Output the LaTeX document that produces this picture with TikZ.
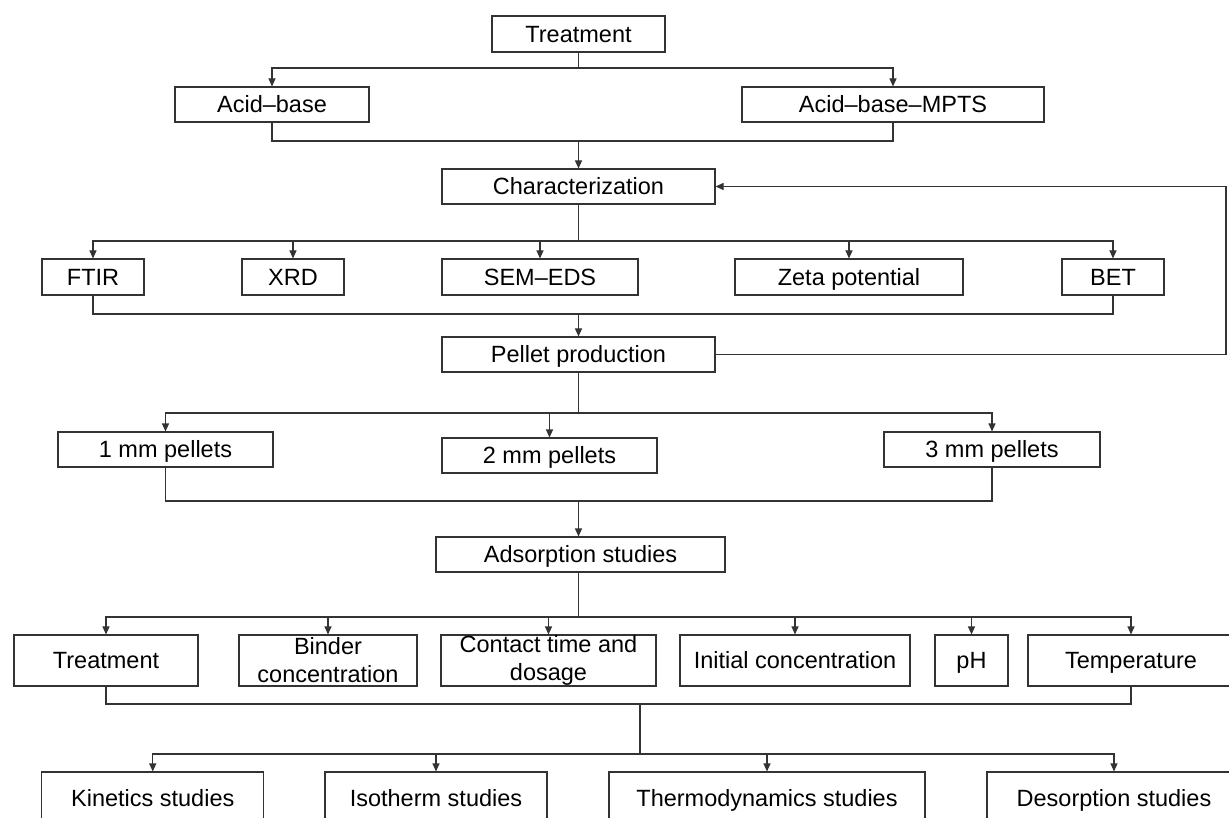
\documentclass[tikz,border=0pt]{standalone}
\usepackage{fontspec}
\setmainfont{Liberation Sans}
\usetikzlibrary{arrows.meta}
\begin{document}
\begin{tikzpicture}[x=1pt,y=-1pt,
  box/.style={draw=black!80, line width=1.1pt, inner sep=0pt, align=center,
    font=\fontsize{23.5}{28}\selectfont, text=black},
  sbox/.style={box, text height=18.8pt, text depth=1.9pt},
  ln/.style={draw=black!80, line width=1.1pt},
  arr/.style={ln, -{Triangle[length=8pt,width=7pt]}}]
\useasboundingbox (0,0) rectangle (1229,818);
\fill[white] (0,0) rectangle (1229,818);
\clip (0,0) rectangle (1229,818);
% nodes
\node[sbox, minimum width=173, minimum height=36] (t0) at (578.5,34) {Treatment};
\node[sbox, minimum width=194, minimum height=35] (ab) at (272,104.5) {Acid–base};
\node[sbox, minimum width=302, minimum height=35] (abm) at (893,104.5) {Acid–base–MPTS};
\node[sbox, minimum width=273, minimum height=35] (ch) at (578.5,186.5) {Characterization};
\node[sbox, minimum width=102, minimum height=36] (ftir) at (93,277) {FTIR};
\node[sbox, minimum width=102, minimum height=36] (xrd) at (293,277) {XRD};
\node[sbox, minimum width=196, minimum height=36] (sem) at (540,277) {SEM–EDS};
\node[sbox, minimum width=228, minimum height=36] (zeta) at (849,277) {Zeta potential};
\node[sbox, minimum width=102, minimum height=36] (bet) at (1113,277) {BET};
\node[sbox, minimum width=273, minimum height=35] (pp) at (578.5,354.5) {Pellet production};
\node[sbox, minimum width=215, minimum height=35] (p1) at (165.5,449.5) {1 mm pellets};
\node[sbox, minimum width=215, minimum height=35] (p2) at (549.5,455.5) {2 mm pellets};
\node[sbox, minimum width=216, minimum height=35] (p3) at (992,449.5) {3 mm pellets};
\node[sbox, minimum width=289, minimum height=35] (ads) at (580.5,554.5) {Adsorption studies};
\node[sbox, minimum width=184, minimum height=51] (tr) at (106,660.5) {Treatment};
\node[box, minimum width=178, minimum height=51] (bind) at (328,660.5) {Binder\\concentration};
\node[box, minimum width=215, minimum height=51] (cont) at (548.5,660.5) {Contact time and\\dosage};
\node[sbox, minimum width=230, minimum height=51] (init) at (795,660.5) {Initial concentration};
\node[sbox, minimum width=73, minimum height=51] (ph) at (971.5,660.5) {pH};
\node[sbox, minimum width=206, minimum height=51] (temp) at (1131,660.5) {Temperature};
\node[sbox, minimum width=222, minimum height=52] (kin) at (152.75,798) {Kinetics studies};
\node[sbox, minimum width=222, minimum height=52] (iso) at (436,798) {Isotherm studies};
\node[sbox, minimum width=316, minimum height=52] (thermo) at (767,798) {Thermodynamics studies};
\node[sbox, minimum width=254, minimum height=52] (des) at (1114,798) {Desorption studies};
% junction coordinates
\coordinate (s1) at (578.5,68);
\coordinate (m1) at (578.5,141);
\coordinate (s2) at (578.5,241);
\coordinate (m2) at (578.5,314);
\coordinate (fbx) at (1226,0);
\coordinate (s3) at (578.5,413);
\coordinate (m3) at (578.5,501);
\coordinate (s4) at (578.5,617);
\coordinate (m4) at (640,704);
\coordinate (s5) at (640,754);
% connectors
\draw[ln] (t0.south) -- (s1);
\draw[arr] (s1) -| (ab.north);
\draw[arr] (s1) -| (abm.north);
\draw[ln] (ab.south) |- (m1) -| (abm.south);
\draw[arr] (m1) -- (ch.north);
\draw[ln] (ch.south) -- (s2);
\foreach \n in {ftir,xrd,sem,zeta,bet} \draw[arr] (s2) -| (\n.north);
\draw[ln] (ftir.south) |- (m2) -| (bet.south);
\draw[arr] (m2) -- (pp.north);
\draw[arr] (pp.east) -- (pp.east -| fbx) |- (ch.east);
\draw[ln] (pp.south) -- (s3);
\foreach \n in {p1,p2,p3} \draw[arr] (s3) -| (\n.north);
\draw[ln] (p1.south) |- (m3) -| (p3.south);
\draw[arr] (m3) -- (m3 |- ads.north);
\draw[ln] (m3 |- ads.south) -- (s4);
\foreach \n in {tr,bind,cont,init,ph,temp} \draw[arr] (s4) -| (\n.north);
\draw[ln] (tr.south) |- (m4) -| (temp.south);
\draw[ln] (m4) -- (s5);
\foreach \n in {kin,iso,thermo,des} \draw[arr] (s5) -| (\n.north);
\end{tikzpicture}
\end{document}
